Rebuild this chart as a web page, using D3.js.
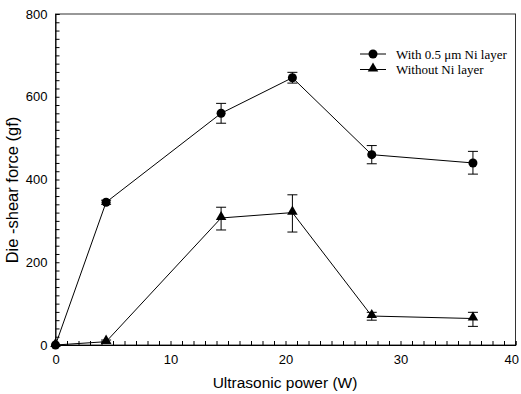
<!DOCTYPE html>
<html>
<head>
<meta charset="utf-8">
<script src="https://cdn.jsdelivr.net/npm/d3@7"></script>
<style>
  html, body { margin: 0; padding: 0; background: #fff; }
  svg { display: block; }
</style>
</head>
<body>
<div id="chart"></div>
<script>
// Ultrasonic power (W) for each bonding condition
const powerW = [0, 4.4, 14.4, 20.6, 27.5, 36.3];

// Die-shear force (gf) with a 0.5 µm Ni layer, and its error range
const withNi = [0, 345, 560, 646, 460, 440];
const withNiLow = [0, 340, 536, 633, 438, 413];
const withNiHigh = [0, 350, 584, 659, 482, 468];

// Die-shear force (gf) without a Ni layer, and its error range
const withoutNi = [0, 8, 307, 320, 70, 64];
const withoutNiLow = [0, 4, 278, 273, 60, 45];
const withoutNiHigh = [0, 12, 333, 363, 79, 79];

const xTicks = [0, 10, 20, 30, 40];
const yTicks = [0, 200, 400, 600, 800];
const seriesNames = ["With 0.5 \u03bcm Ni layer", "Without Ni layer"];

const W = 521, H = 394;
const margin = { left: 55.5, right: 5.5, top: 14, bottom: 49 };

const svg = d3.select("#chart").append("svg")
  .attr("width", W).attr("height", H);

const x = d3.scaleLinear().domain([0, 40]).range([margin.left, W - margin.right]);
const y = d3.scaleLinear().domain([0, 800]).range([H - margin.bottom, margin.top]);

const sans = "Liberation Sans, Arial, sans-serif";
const serif = "Liberation Serif, Times New Roman, serif";

// Frame
svg.append("rect")
  .attr("x", x(0)).attr("y", y(800))
  .attr("width", x(40) - x(0)).attr("height", y(0) - y(800))
  .attr("fill", "none").attr("stroke", "#333").attr("stroke-width", 1);

// Inward-facing ticks: minor every 1 W and 20 gf
const xAxis = d3.axisBottom(x).tickValues(d3.range(0, 41, 1))
  .tickSize(-4).tickFormat(d => xTicks.includes(d) ? d : "").tickPadding(10);
const gx = svg.append("g").attr("transform", `translate(0,${y(0)})`).call(xAxis);
gx.select(".domain").attr("stroke", "#000");
gx.selectAll(".tick line").attr("stroke", "#000");
gx.selectAll(".tick text").attr("font-family", sans).attr("font-size", 13).attr("fill", "#000");
// keep the last label inside the page edge
gx.selectAll(".tick text").filter(d => d === 40).attr("text-anchor", "end").attr("x", 3);

const yAxis = d3.axisLeft(y).tickValues(d3.range(0, 801, 20))
  .tickSize(-4).tickFormat(d => yTicks.includes(d) ? d : "").tickPadding(8);
const gy = svg.append("g").attr("transform", `translate(${x(0)},0)`).call(yAxis);
gy.select(".domain").attr("stroke", "#000");
gy.selectAll(".tick line").attr("stroke", "#000");
gy.selectAll(".tick text").attr("font-family", sans).attr("font-size", 13).attr("fill", "#000");

// Axis titles
svg.append("text")
  .attr("x", 285).attr("y", 388)
  .attr("text-anchor", "middle")
  .attr("font-family", sans).attr("font-size", 15.5)
  .text("Ultrasonic power (W)");

svg.append("text")
  .attr("transform", `translate(18,190) rotate(-90)`)
  .attr("text-anchor", "middle")
  .attr("font-family", sans).attr("font-size", 16.5)
  .text("Die -shear force (gf)");

const line = d3.line().x(d => x(d.p)).y(d => y(d.v));
const tri = d3.symbol().type(d3.symbolTriangle).size(48);

function drawSeries(vals, lows, highs, marker) {
  const pts = powerW.map((p, i) => ({ p, v: vals[i], lo: lows[i], hi: highs[i] }));
  const g = svg.append("g");
  g.append("path").datum(pts).attr("d", line)
    .attr("fill", "none").attr("stroke", "#000").attr("stroke-width", 1);
  const eb = g.selectAll(".eb").data(pts.filter(d => d.hi > d.lo)).enter().append("g");
  eb.append("line").attr("x1", d => x(d.p)).attr("x2", d => x(d.p))
    .attr("y1", d => y(d.lo)).attr("y2", d => y(d.hi)).attr("stroke", "#000");
  [d => d.lo, d => d.hi].forEach(acc => {
    eb.append("line").attr("x1", d => x(d.p) - 5).attr("x2", d => x(d.p) + 5)
      .attr("y1", d => y(acc(d))).attr("y2", d => y(acc(d))).attr("stroke", "#000");
  });
  if (marker === "circle") {
    g.selectAll(".m").data(pts).enter().append("circle")
      .attr("cx", d => x(d.p)).attr("cy", d => y(d.v)).attr("r", 4.5).attr("fill", "#000");
  } else {
    g.selectAll(".m").data(pts).enter().append("path")
      .attr("d", tri).attr("transform", d => `translate(${x(d.p)},${y(d.v) - 1})`).attr("fill", "#000");
  }
}

drawSeries(withNi, withNiLow, withNiHigh, "circle");
drawSeries(withoutNi, withoutNiLow, withoutNiHigh, "triangle");

// Legend
const legend = svg.append("g");
[0, 1].forEach(i => {
  const cy = 54 + i * 15.5;
  legend.append("line").attr("x1", 360).attr("x2", 386).attr("y1", cy).attr("y2", cy).attr("stroke", "#000");
  if (i === 0) {
    legend.append("circle").attr("cx", 373).attr("cy", cy).attr("r", 4.5).attr("fill", "#000");
  } else {
    legend.append("path").attr("d", tri).attr("transform", `translate(373,${cy - 1})`).attr("fill", "#000");
  }
  legend.append("text").attr("x", 396).attr("y", cy + 4.5)
    .attr("font-family", serif).attr("font-size", 13).text(seriesNames[i]);
});
</script>
</body>
</html>
